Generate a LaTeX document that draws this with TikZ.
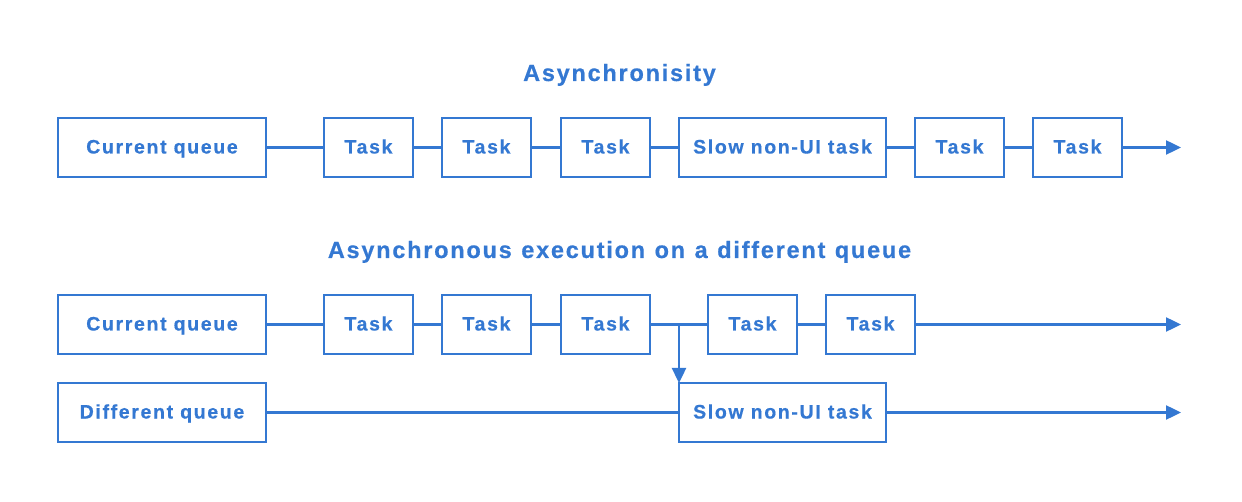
\documentclass[tikz,border=0pt]{standalone}
\usepackage{fontspec}
\setmainfont{Liberation Sans}
\newfontfamily\boxfont[LetterSpace=8.5,FakeBold=0.6,UprightFont={Liberation Sans Bold},BoldFont={Liberation Sans Bold}]{Liberation Sans}
\newfontfamily\titlefont[LetterSpace=7.5,WordSpace=1.15,FakeBold=0.6,UprightFont={Liberation Sans Bold},BoldFont={Liberation Sans Bold}]{Liberation Sans}
\usetikzlibrary{arrows.meta}
\definecolor{qblue}{RGB}{52,120,210}
\begin{document}
\begin{tikzpicture}[x=1pt,y=-1pt,
  box/.style={draw=qblue,line width=2.9pt,text=qblue,minimum height=59pt,inner sep=0pt,outer sep=0pt,
    text height=14pt,text depth=2pt,
    font=\boxfont\fontsize{19.5}{23}\selectfont},
  wbox/.style={box,minimum width=208pt},
  tbox/.style={box,minimum width=89pt},
  ttl/.style={text=qblue,inner sep=0pt,text height=17pt,text depth=0pt,font=\titlefont\fontsize{23.5}{28}\selectfont},
  conn/.style={draw=qblue,line width=2.4pt},
  arr/.style={conn,-{Triangle[length=15pt,width=14pt]}}]
\useasboundingbox (0,0) rectangle (1242,502);
% titles
\node[ttl] (t1) at (619.5,72.5) {Asynchronisity};
\node[ttl] (t2) at (619.5,249.5) {Asynchronous execution on a different queue};
% row 1
\node[wbox] (a0) at (162,147.5) {Current queue};
\node[tbox] (a1) at (368.5,147.5) {Task};
\node[tbox] (a2) at (486.5,147.5) {Task};
\node[tbox] (a3) at (605.5,147.5) {Task};
\node[box,minimum width=207pt] (a4) at (782.5,147.5) {Slow non-UI task};
\node[tbox] (a5) at (959.5,147.5) {Task};
\node[tbox] (a6) at (1077.5,147.5) {Task};
\coordinate (ae) at (1181,147.5);
\draw[conn] (a0) -- (a1);
\draw[conn] (a1) -- (a2);
\draw[conn] (a2) -- (a3);
\draw[conn] (a3) -- (a4);
\draw[conn] (a4) -- (a5);
\draw[conn] (a5) -- (a6);
\draw[arr] (a6) -- (ae);
% row 2
\node[wbox] (b0) at (162,324.5) {Current queue};
\node[tbox] (b1) at (368.5,324.5) {Task};
\node[tbox] (b2) at (486.5,324.5) {Task};
\node[tbox] (b3) at (605.5,324.5) {Task};
\node[tbox] (b4) at (752.5,324.5) {Task};
\node[tbox] (b5) at (870.5,324.5) {Task};
\coordinate (be) at (1181,324.5);
\coordinate (j) at (679,324.5);
\draw[conn] (b0) -- (b1);
\draw[conn] (b1) -- (b2);
\draw[conn] (b2) -- (b3);
\draw[conn] (b3) -- (b4);
\draw[conn] (b4) -- (b5);
\draw[arr] (b5) -- (be);
% row 3
\node[wbox] (c0) at (162,412.5) {Different queue};
\node[box,minimum width=207pt] (c1) at (782.5,412.5) {Slow non-UI task};
\coordinate (ce) at (1181,412.5);
\draw[conn] (c0) -- (c1);
\draw[arr] (c1) -- (ce);
\draw[arr] (j) -- (c1.north west);
\end{tikzpicture}
\end{document}
